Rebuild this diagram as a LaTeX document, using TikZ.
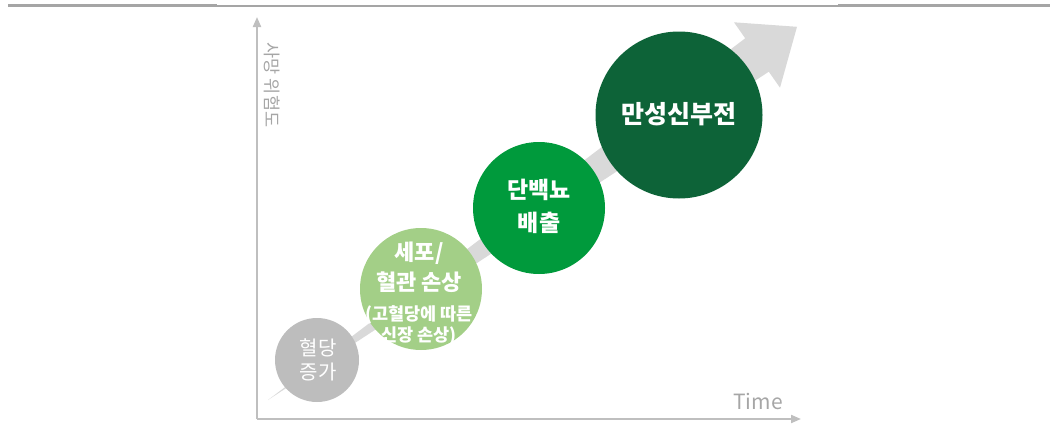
\documentclass[tikz,border=0pt]{standalone}
\usepackage{fontspec}
\newfontfamily\kr{Noto Sans CJK KR}
\usetikzlibrary{arrows.meta}
\definecolor{axisgray}{HTML}{BFBFBF}
\definecolor{labelgray}{HTML}{A6A6A6}
\definecolor{topgray}{HTML}{A5A5A5}
\definecolor{arrowgray}{HTML}{D9D9D9}
\definecolor{cgray}{HTML}{BDBDBD}
\definecolor{clight}{HTML}{A3CF87}
\definecolor{cgreen}{HTML}{009A3C}
\definecolor{cdark}{HTML}{0D6338}
\tikzset{
  axisline/.style={draw=axisgray, line width=2pt, -{Triangle[length=10pt,width=8pt]}},
  axislabel/.style={text=labelgray, inner sep=0pt},
  circ/.style={circle, inner sep=0pt, draw=none},
  circtext/.style={text=white, align=center, inner sep=0pt},
}
\begin{document}
\begin{tikzpicture}[x=1pt,y=-1pt]
\useasboundingbox (0,0) rectangle (1055,439);
% top rule
\fill[topgray] (8,4) rectangle (217,7);
\fill[topgray] (217,4.5) rectangle (838,6.5);
\fill[topgray] (838,4) rectangle (1050,7);
% axes
\coordinate (O) at (257,419);
\coordinate (ytip) at (257,17);
\coordinate (xtip) at (801,419);
\draw[axisline] (O) -- (ytip);
\draw[axisline] (O) -- (xtip);
\node[axislabel, rotate=-90, font=\kr\fontsize{17.5}{20}\selectfont] (ylab) at (272,85) {사망 위험도};
\node[axislabel, font=\kr\fontsize{21}{24}\selectfont] (xlab) at (758,401) {Time};
% big progress arrow
\coordinate (aS) at (268,400);
\coordinate (aN1) at (745.2,38.3);
\coordinate (aH1) at (734,22.3);
\coordinate (aT) at (797,26.8);
\coordinate (aH2) at (780,87.7);
\coordinate (aN2) at (768.8,71.7);
\fill[arrowgray] (aS) -- (aN1) -- (aH1) -- (aT) -- (aH2) -- (aN2) -- cycle;
% circles
\node[circ, fill=cgray, minimum size=84pt] (c1) at (317,360) {};
\node[circ, fill=clight, minimum size=122pt] (c2) at (421,289) {};
\node[circ, fill=cgreen, minimum size=132pt] (c3) at (539,208) {};
\node[circ, fill=cdark, minimum size=167pt] (c4) at (679,115) {};
% texts
\node[circtext, font=\kr\fontsize{20}{24}\selectfont] (t1) at (318,360) {혈당\\증가};
\node[circtext, font=\kr\bfseries\fontsize{22}{30}\selectfont] (t2a) at (419,267) {세포/\\혈관 손상};
\node[circtext, font=\kr\bfseries\fontsize{17.5}{21}\selectfont] (t2b) at (419,325) {(고혈당에 따른\\신장 손상)};
\node[circtext, font=\kr\bfseries\fontsize{23}{33}\selectfont] (t3) at (539,206) {단백뇨\\배출};
\node[circtext, font=\kr\bfseries\fontsize{25}{28}\selectfont] (t4) at (679,114) {만성신부전};
\end{tikzpicture}
\end{document}
